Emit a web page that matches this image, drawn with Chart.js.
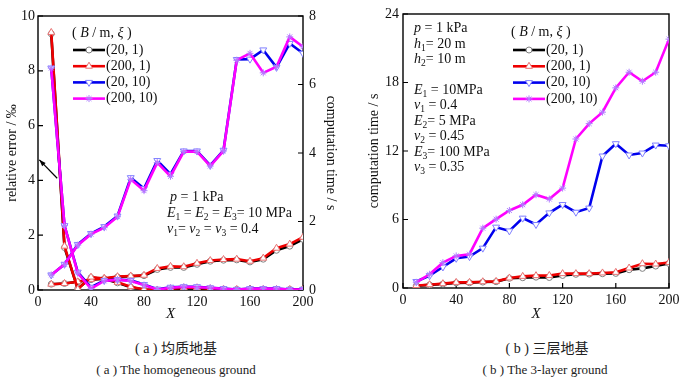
<!DOCTYPE html>
<html><head><meta charset="utf-8">
<script src="https://cdn.jsdelivr.net/npm/chart.js@4.4.0/dist/chart.umd.min.js"></script>
<style>
body{margin:0;background:#fff;width:684px;height:383px;overflow:hidden;position:relative;font-family:"Liberation Serif",serif}
.c{position:absolute;top:0;height:330px;width:342px}
.cap{position:absolute;text-align:center;width:300px;color:#222;white-space:nowrap}
.cn{font-family:"Liberation Serif","Noto Sans CJK SC",serif;font-size:14px}
.en{font-size:13px}
</style></head><body>
<div class="c" style="left:0"><canvas id="ca" width="342" height="330"></canvas></div>
<div class="c" style="left:342px"><canvas id="cb" width="342" height="330"></canvas></div>
<div class="cap cn" style="left:26px;top:337px">( a ) <span style="font-family:'Noto Sans CJK SC'">均质地基</span></div>
<div class="cap en" style="left:26px;top:362px">( a ) The homogeneous ground</div>
<div class="cap cn" style="left:397px;top:337px">( b ) <span style="font-family:'Noto Sans CJK SC'">三层地基</span></div>
<div class="cap en" style="left:395px;top:362px">( b ) The 3-layer ground</div>
<script>
// ---------------- data ----------------
const X = [10,20,30,40,50,60,70,80,90,100,110,120,130,140,150,160,170,180,190,200];
const seriesNames = ['(20, 1)','(200, 1)','(20, 10)','(200, 10)'];

// (a) homogeneous ground: relative error (‰), left axis
const errA_20_1   = [9.35,1.55,0.05,0.45,0.40,0.26,0.10,0.02,0.00,0.04,0.06,0.06,0.04,0.02,0.02,0.02,0.02,0.02,0.02,0.02];
const errA_200_1  = [9.40,1.60,0.03,0.47,0.42,0.28,0.12,0.02,0.00,0.05,0.08,0.08,0.05,0.03,0.02,0.02,0.02,0.02,0.02,0.02];
const errA_20_10  = [8.10,2.35,0.65,0.10,0.35,0.38,0.35,0.20,0.03,0.10,0.12,0.12,0.08,0.05,0.02,0.05,0.05,0.05,0.02,0.02];
const errA_200_10 = [8.10,2.35,0.62,0.05,0.33,0.38,0.33,0.18,0.02,0.08,0.12,0.10,0.08,0.04,0.02,0.04,0.05,0.04,0.02,0.02];
// (a) computation time (s), right axis
const timeA_20_1   = [0.17,0.19,0.24,0.30,0.33,0.38,0.40,0.42,0.60,0.66,0.66,0.75,0.84,0.87,0.88,0.82,0.90,1.16,1.28,1.48];
const timeA_200_1  = [0.17,0.19,0.24,0.31,0.34,0.39,0.41,0.43,0.63,0.69,0.68,0.78,0.86,0.89,0.90,0.84,0.93,1.22,1.34,1.54];
const timeA_20_10  = [0.44,0.75,1.33,1.65,1.85,2.16,3.28,2.96,3.78,3.38,4.06,4.06,3.64,4.08,6.73,6.74,7.01,6.50,7.20,6.91];
const timeA_200_10 = [0.44,0.75,1.31,1.63,1.82,2.14,3.23,2.90,3.72,3.32,4.04,4.04,3.62,4.06,6.71,6.91,6.34,6.52,7.39,7.10];

// (b) 3-layer ground: computation time (s)
const timeB_20_1   = [0.20,0.27,0.35,0.45,0.46,0.52,0.55,0.85,0.90,0.95,0.92,1.10,1.20,1.22,1.25,1.28,1.60,1.72,1.92,2.15];
const timeB_200_1  = [0.22,0.29,0.38,0.49,0.49,0.55,0.58,0.88,1.02,1.08,1.10,1.26,1.26,1.26,1.32,1.37,1.75,2.13,2.10,2.24];
const timeB_20_10  = [0.57,1.08,1.84,2.60,2.75,3.49,5.33,5.00,6.12,5.56,6.58,7.31,6.64,7.00,11.56,12.64,11.65,11.82,12.52,12.46];
const timeB_200_10 = [0.50,1.20,2.22,2.81,2.96,5.24,6.03,6.79,7.29,8.17,7.79,8.75,13.05,14.40,15.40,17.53,18.90,18.11,18.90,21.80];

// tick settings
const ticksA_X = {min:0,max:200,step:40};
const ticksA_Err = {min:0,max:10,step:2};
const ticksA_Time = {min:0,max:8,step:2};
const ticksB_Time = {min:0,max:24,step:6};

// ---------------- styles ----------------
const STY = [
  {line:'#000000', mk:'#808080', ps:'circle', rot:0, r:3},
  {line:'#ee0000', mk:'#e87070', ps:'triangle', rot:0, r:4},
  {line:'#0000ee', mk:'#8080ff', ps:'triangle', rot:180, r:4},
  {line:'#ff00ff', mk:'#b080ff', ps:'star', rot:0, r:3.5}
];
const ORD = [3,2,1,0];
const SERIF = '"Liberation Serif", "Times New Roman", serif';

function ds(data, i, axis){
  const s = STY[i];
  return {data: data.map((v,k)=>({x:X[k], y:v})), yAxisID: axis, borderColor:s.line, borderWidth:2.6,
    pointStyle:s.ps, pointRotation:s.rot, pointRadius:s.r, pointBorderColor:s.mk, pointBackgroundColor:'#fff',
    pointBorderWidth:1, tension:0, order:ORD[i], label: seriesNames[i]};
}

function rich(ctx, x, y, parts, size){
  let cx = x;
  ctx.textBaseline = 'middle'; ctx.textAlign = 'left'; ctx.fillStyle = '#111';
  for (const [t, st] of parts){
    const sub = st.includes('s'), it = st.includes('i');
    const fs = sub ? size*0.68 : size;
    ctx.font = (it?'italic ':'') + fs + 'px ' + SERIF;
    ctx.fillText(t, cx, y + (sub ? size*0.32 : 0));
    cx += ctx.measureText(t).width;
  }
}

const deco = {
  id:'deco',
  beforeDatasetsDraw(chart){
    const {ctx, chartArea:a, scales} = chart;
    ctx.save();
    ctx.strokeStyle = '#000'; ctx.lineWidth = 1.4;
    ctx.strokeRect(a.left, a.top, a.right-a.left, a.bottom-a.top);
    ctx.lineWidth = 1.2; ctx.beginPath();
    const L = 5;
    scales.x.ticks.forEach((t,i)=>{const p=scales.x.getPixelForTick(i); ctx.moveTo(p,a.bottom); ctx.lineTo(p,a.bottom-L);});
    scales.y.ticks.forEach((t,i)=>{const p=scales.y.getPixelForTick(i); ctx.moveTo(a.left,p); ctx.lineTo(a.left+L,p);});
    if (scales.y2) scales.y2.ticks.forEach((t,i)=>{const p=scales.y2.getPixelForTick(i); ctx.moveTo(a.right,p); ctx.lineTo(a.right-L,p);});
    ctx.stroke();
    ctx.restore();
  },
  afterDatasetsDraw(chart){
    const o = chart.options.plugins.deco; const {ctx, scales} = chart;
    ctx.save();
    (o.notes||[]).forEach(n=>rich(ctx, n.x, n.y, n.parts, n.size));
    const lg = o.legend;
    rich(ctx, lg.x, lg.y, [['( ',''],['B','i'],[' / m, ',''],['ξ','i'],[' )','']], 14);
    seriesNames.forEach((nm,i)=>{
      const y = lg.y0 + i*lg.dy; const s = STY[i];
      ctx.strokeStyle = s.line; ctx.lineWidth = 2.6;
      ctx.beginPath(); ctx.moveTo(lg.lx, y); ctx.lineTo(lg.lx+lg.lw, y); ctx.stroke();
      ctx.strokeStyle = s.mk; ctx.fillStyle = '#fff'; ctx.lineWidth = 1;
      Chart.helpers.drawPoint(ctx, {pointStyle:s.ps, radius:s.r, rotation:s.rot, borderWidth:1}, lg.lx+lg.lw/2, y);
      rich(ctx, lg.lx+lg.lw+1, y, [[nm,'']], 14);
    });
    if (o.arrow){
      const ar = o.arrow;
      const x1 = scales.x.getPixelForValue(ar.from[0]), y1 = scales.y.getPixelForValue(ar.from[1]);
      const x2 = scales.x.getPixelForValue(ar.to[0]), y2 = scales.y.getPixelForValue(ar.to[1]);
      ctx.strokeStyle='#000'; ctx.fillStyle='#000'; ctx.lineWidth=1.2;
      ctx.beginPath(); ctx.moveTo(x1,y1); ctx.lineTo(x2,y2); ctx.stroke();
      const ang = Math.atan2(y2-y1, x2-x1), h=7;
      ctx.beginPath(); ctx.moveTo(x2,y2);
      ctx.lineTo(x2-h*Math.cos(ang-0.35), y2-h*Math.sin(ang-0.35));
      ctx.lineTo(x2-h*Math.cos(ang+0.35), y2-h*Math.sin(ang+0.35));
      ctx.closePath(); ctx.fill();
    }
    ctx.restore();
  }
};

const tickFont = {family: SERIF, size: 14};
function yScale(t, pos, w, title, tpad, tickPad){
  return {type:'linear', position:pos, min:t.min, max:t.max,
    ticks:{stepSize:t.step, color:'#111', font:tickFont, padding:tickPad},
    grid:{display:false, drawTicks:false}, border:{display:false},
    title:{display:true, text:title, color:'#111', font:{family:SERIF, size:14}, padding:{top:tpad,bottom:0}},
    afterFit(s){ s.width = w; }};
}
function xScale(t, h){
  return {type:'linear', min:t.min, max:t.max,
    ticks:{stepSize:t.step, color:'#111', font:tickFont, padding:4, maxRotation:0},
    grid:{display:false, drawTicks:false}, border:{display:false},
    title:{display:true, text:'X', color:'#111', font:{family:SERIF, size:15, style:'italic'}, padding:{top:0,bottom:7}},
    afterFit(s){ s.height = h; }};
}

// ---------- chart (a) ----------
new Chart(document.getElementById('ca'), {
  type:'line',
  data:{datasets:[
    ds(errA_20_1,0,'y'), ds(errA_200_1,1,'y'), ds(errA_20_10,2,'y'), ds(errA_200_10,3,'y'),
    ds(timeA_20_1,0,'y2'), ds(timeA_200_1,1,'y2'), ds(timeA_20_10,2,'y2'), ds(timeA_200_10,3,'y2')
  ]},
  options:{responsive:false, animation:false, events:[],
    layout:{padding:{top:16,left:0,right:0,bottom:0}},
    scales:{x:xScale(ticksA_X,40),
      y:yScale(ticksA_Err,'left',38,'relative error / ‰',4,3),
      y2:yScale(ticksA_Time,'right',39,'computation time / s',3,6)},
    plugins:{legend:{display:false}, tooltip:{enabled:false},
      deco:{
        legend:{x:72, y:33, y0:50, dy:16.2, lx:73, lw:32},
        notes:[
          {x:170,y:197,size:14,parts:[['p','i'],[' = 1 kPa','']]},
          {x:167,y:213,size:14,parts:[['E','i'],['1','s'],[' = ',''],['E','i'],['2','s'],[' = ',''],['E','i'],['3','s'],['= 10 MPa','']]},
          {x:167,y:229,size:14,parts:[['ν','i'],['1','s'],['= ',''],['ν','i'],['2','s'],[' = ',''],['ν','i'],['3','s'],[' = 0.4','']]}
        ],
        arrow:{from:[14.5,4.08], to:[1,4.75]}
      }}
  },
  plugins:[deco]
});

// ---------- chart (b) ----------
new Chart(document.getElementById('cb'), {
  type:'line',
  data:{datasets:[ds(timeB_20_1,0,'y'), ds(timeB_200_1,1,'y'), ds(timeB_20_10,2,'y'), ds(timeB_200_10,3,'y')]},
  options:{responsive:false, animation:false, events:[],
    layout:{padding:{top:14,left:0,right:15,bottom:0}},
    scales:{x:xScale(ticksA_X,42),
      y:yScale(ticksB_Time,'left',61,'computation time / s',24,4)},
    plugins:{legend:{display:false}, tooltip:{enabled:false},
      deco:{
        legend:{x:169, y:32, y0:50, dy:16.3, lx:171, lw:32},
        notes:[
          {x:72,y:28,size:14,parts:[['p','i'],[' = 1 kPa','']]},
          {x:72,y:44,size:14,parts:[['h','i'],['1','s'],['= 20 m','']]},
          {x:72,y:59,size:14,parts:[['h','i'],['2','s'],['= 10 m','']]},
          {x:72,y:90,size:14,parts:[['E','i'],['1','s'],[' = 10MPa','']]},
          {x:72,y:105,size:14,parts:[['ν','i'],['1','s'],[' = 0.4','']]},
          {x:72,y:121,size:14,parts:[['E','i'],['2','s'],['= 5 MPa','']]},
          {x:72,y:136,size:14,parts:[['ν','i'],['2','s'],[' = 0.45','']]},
          {x:72,y:152,size:14,parts:[['E','i'],['3','s'],['= 100 MPa','']]},
          {x:72,y:167,size:14,parts:[['ν','i'],['3','s'],[' = 0.35','']]}
        ]
      }}
  },
  plugins:[deco]
});
</script>
</body></html>
